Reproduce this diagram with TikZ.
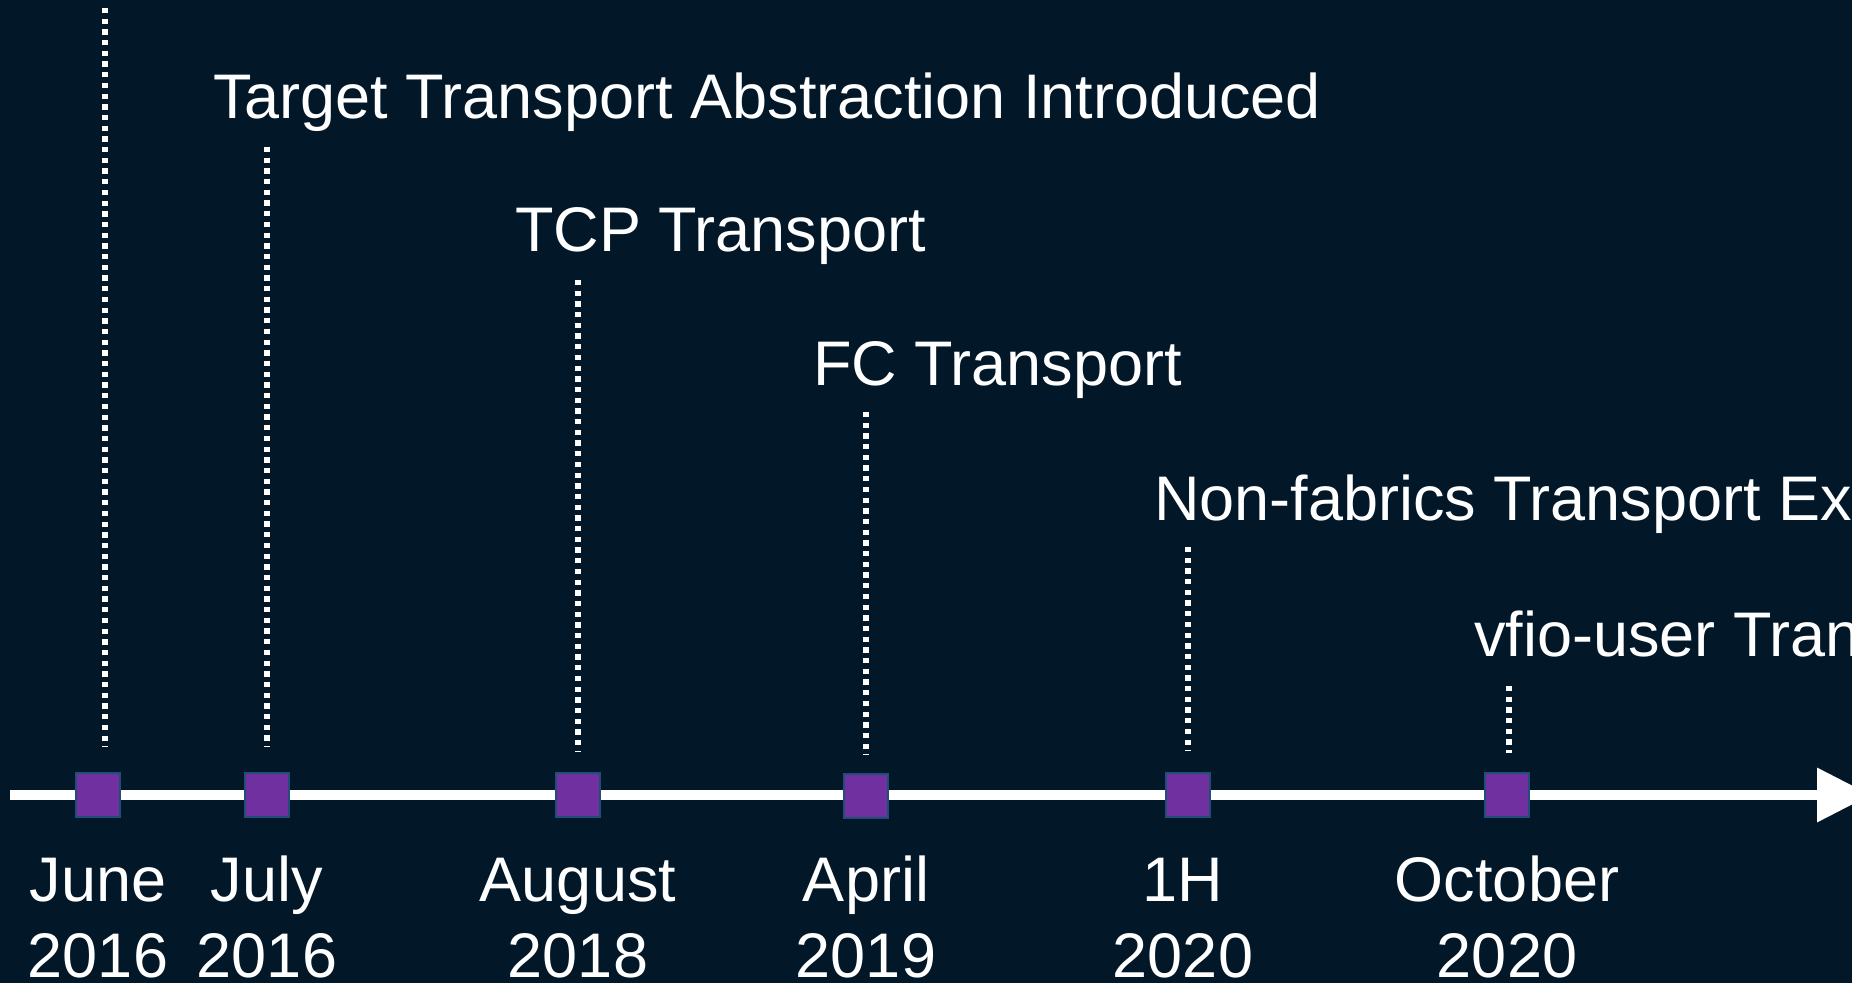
\documentclass[tikz,border=0pt]{standalone}
\usepackage{fontspec}
\setmainfont{Liberation Sans}
\usetikzlibrary{arrows.meta}

\definecolor{navy}{RGB}{2,24,41}
\definecolor{mpurple}{RGB}{112,48,160}
\definecolor{mblue}{RGB}{31,78,121}

\begin{document}
\begin{tikzpicture}[
    x=1pt, y=1pt,
    marker/.style={rectangle, draw=mblue, fill=mpurple, line width=2pt, minimum size=44pt, inner sep=0pt},
    axis/.style={white, line width=10pt, -{Triangle[length=54pt, width=52pt]}},
    guide/.style={white, line width=6pt, dash pattern=on 5.3pt off 5.4pt},
    event/.style={text=white, inner sep=0pt, anchor=base west, font=\fontsize{63}{76}\selectfont},
    date/.style={text=white, inner sep=0pt, anchor=base, align=center, font=\fontsize{63}{76}\selectfont}
]
    \fill[navy] (0,0) rectangle (1852,983);
    \useasboundingbox (0,0) rectangle (1852,983);

    % time axis
    \coordinate (t0) at (10,188);
    \coordinate (t1) at (1871,188);
    \draw[axis] (t0) -- (t1);

    \node[marker] (jun16) at (98,188) {};
    \node[marker] (jul16) at (267,188) {};
    \node[marker] (aug18) at (578,188) {};
    \node[marker] (apr19) at (866,187) {};
    \node[marker] (h120) at (1188,188) {};
    \node[marker] (oct20) at (1507,188) {};

    % events
    \node[event] (target) at (213,864) {Target Transport Abstraction Introduced};
    \node[event] (tcp) at (515,731) {TCP Transport};
    \node[event] (fc) at (813,597) {FC Transport};
    \node[event] (nonfab) at (1154,462) {Non-fabrics Transport Ex};
    \node[event] (vfio) at (1474,326) {vfio-user Tran};

    \draw[guide] (105,975) -- ([xshift=7pt, yshift=25pt]jun16.north);
    \draw[guide] (267,836) -- ([yshift=25pt]jul16.north);
    \draw[guide] (578,703) -- ([yshift=21pt]aug18.north);
    \draw[guide] (866,571) -- ([yshift=18pt]apr19.north);
    \draw[guide] (1188,436) -- ([yshift=21pt]h120.north);
    \draw[guide] (1509,297) -- ([xshift=2pt, yshift=19pt]oct20.north);

    % dates
    \node[date] (d1) at (98,6) {June\\2016};
    \node[date] (d2) at (267,6) {July\\2016};
    \node[date] (d3) at (578,6) {August\\2018};
    \node[date] (d4) at (866,6) {April\\2019};
    \node[date] (d5) at (1183,6) {1H\\2020};
    \node[date] (d6) at (1507,6) {October\\2020};
\end{tikzpicture}
\end{document}
